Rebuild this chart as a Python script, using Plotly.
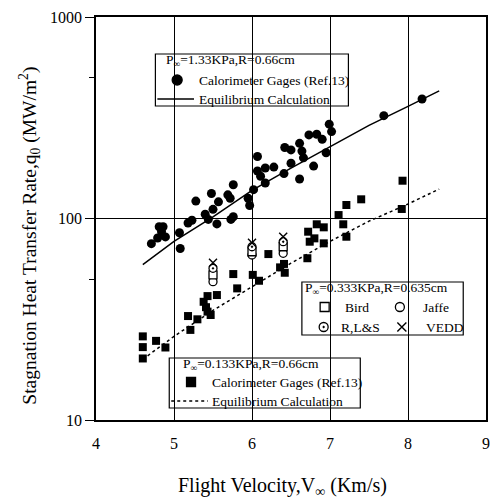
import plotly.graph_objects as go

# ---------------- data ----------------
# P_inf = 1.33 KPa, R = 0.66 cm : calorimeter gages (filled circles)
circ_v = [4.71, 4.79, 4.81, 4.86, 4.84, 4.89, 5.07, 5.08, 5.18, 5.23, 5.28,
          5.40, 5.44, 5.48, 5.50, 5.55, 5.57, 5.69, 5.72, 5.73, 5.76, 5.76,
          5.95, 5.97, 6.02, 6.07, 6.07, 6.11, 6.17, 6.17, 6.28, 6.41, 6.42,
          6.50, 6.50, 6.61, 6.64, 6.66, 6.61, 6.73, 6.79, 6.83, 6.90, 6.95,
          6.99, 7.02, 7.69, 8.18]
circ_q = [75, 80, 91, 91, 86, 81, 85, 71, 95, 98, 122,
          105, 99, 133, 111, 94, 121, 131, 126, 99, 102, 147,
          126, 116, 139, 203, 172, 162, 178, 150, 180, 167, 225,
          219, 188, 236, 216, 200, 157, 260, 182, 262, 247, 212,
          294, 270, 324, 392]

# P_inf = 0.133 KPa, R = 0.66 cm : calorimeter gages (filled squares)
sq_v = [4.60, 4.60, 4.60, 4.77, 4.89, 5.18, 5.21, 5.30, 5.43, 5.38, 5.41, 5.43,
        5.47, 5.55, 5.76, 5.81, 6.01, 6.09, 6.21, 6.36, 6.41, 6.42, 6.71, 6.72,
        6.74, 6.80, 6.83, 6.92, 6.92, 7.11, 7.17, 7.21, 7.21, 7.40, 7.93, 7.92]
sq_q = [26, 23, 20.2, 24.7, 22.9, 32.8, 28, 31.6, 41.2, 38.6, 36.3, 34.5,
        33.2, 41.7, 53, 45, 52.5, 49.1, 66.6, 57.2, 59.5, 53.8, 63.5, 86,
        76.7, 79.7, 93.6, 90.4, 75.3, 104, 93.6, 81.2, 116.7, 124.5, 154, 111.5]

# P_inf = 0.333 KPa, R = 0.635 cm : other calculations
open_v = [5.5, 6.0, 6.4]
bird_q = [52.5, 68.4, 72.4]
jaffe_q = [48.6, 65.9, 67.2]
rls_q = [56.6, 72.4, 76.7]
vedd_q = [60.3, 75.8, 81.2]

# equilibrium calculations
eq1_v = [4.6, 5.0, 5.5, 6.0, 6.5, 7.0, 7.5, 8.0, 8.4]
eq1_q = [59, 77, 102, 138, 178, 228, 290, 360, 430]
eq2_v = [4.6, 5.0, 5.5, 6.0, 6.5, 7.0, 7.5, 8.0, 8.4]
eq2_q = [20, 26, 35, 46, 60, 77, 97, 118, 140]

x_ticks = [4, 5, 6, 7, 8, 9]
y_ticks = [10, 100, 1000]
y_minor = [50, 500]

x_title = "Flight Velocity,V<sub>∞</sub> (Km/s)"
y_title = "Stagnation Heat Transfer Rate,q<sub>0</sub> (MW/m<sup>2</sup>)"

# ---------------- layout geometry ----------------
W, H = 496, 499
ML, MR, MT, MB = 96, 6, 17, 79
PW, PH = W - ML - MR, H - MT - MB
FONT = "Liberation Serif"
LEG_SIZE = 13.5


def fx(px):
    return (px - ML) / PW


def fy(py):
    return (H - MB - py) / PH


fig = go.Figure()

fig.add_trace(go.Scatter(x=eq1_v, y=eq1_q, mode="lines",
                         line=dict(color="black", width=1.5)))
fig.add_trace(go.Scatter(x=eq2_v, y=eq2_q, mode="lines",
                         line=dict(color="black", width=1.5, dash="3px,3px")))
fig.add_trace(go.Scatter(x=circ_v, y=circ_q, mode="markers",
                         marker=dict(symbol="circle", size=9, color="black")))
fig.add_trace(go.Scatter(x=sq_v, y=sq_q, mode="markers",
                         marker=dict(symbol="square", size=8, color="black")))

open_style = dict(size=8, color="white", line=dict(color="black", width=1.3))
fig.add_trace(go.Scatter(x=open_v, y=jaffe_q, mode="markers",
                         marker=dict(symbol="circle", **open_style)))
fig.add_trace(go.Scatter(x=open_v, y=bird_q, mode="markers",
                         marker=dict(symbol="square", **open_style)))
fig.add_trace(go.Scatter(x=open_v, y=rls_q, mode="markers",
                         marker=dict(symbol="circle-dot", **open_style)))
fig.add_trace(go.Scatter(x=open_v, y=vedd_q, mode="markers",
                         marker=dict(symbol="x-thin", size=8,
                                     line=dict(color="black", width=1.4))))

# ---------------- hand-made legend boxes ----------------
shapes = []
annots = []


def box(x0, y0, x1, y1):
    shapes.append(dict(type="rect", xref="paper", yref="paper",
                       x0=fx(x0), x1=fx(x1), y0=fy(y0), y1=fy(y1),
                       fillcolor="white", line=dict(color="black", width=1.2),
                       layer="between"))


def text(px, py, s, size=LEG_SIZE):
    annots.append(dict(x=fx(px), y=fy(py), xref="paper", yref="paper",
                       text=s, showarrow=False, xanchor="left", yanchor="middle",
                       font=dict(family=FONT, size=size, color="black")))


def key(px, py, symbol, fill="black", size=9):
    fig.add_trace(go.Scatter(x=[fx(px)], y=[fy(py)], xaxis="x2", yaxis="y2",
                             mode="markers",
                             marker=dict(symbol=symbol, size=size, color=fill,
                                         line=dict(color="black", width=1.3))))


def keyline(x0, x1, py, dash="solid"):
    shapes.append(dict(type="line", xref="paper", yref="paper",
                       x0=fx(x0), x1=fx(x1), y0=fy(py), y1=fy(py),
                       line=dict(color="black", width=1.5, dash=dash)))


# box 1 : 1.33 KPa
box(156, 54, 351, 106)
text(165, 60, "P<sub>∞</sub>=1.33KPa,R=0.66cm")
key(178, 80, "circle", size=10)
text(198, 80, "Calorimeter Gages (Ref.13)")
keyline(158, 195, 99)
text(198, 99, "Equilibrium Calculation")

# box 3 : 0.133 KPa
box(170, 358, 363, 408)
text(182, 364, "P<sub>∞</sub>=0.133KPa,R=0.66cm")
key(192, 382, "square", size=9)
text(211, 382, "Calorimeter Gages (Ref.13)")
keyline(172, 209, 401, dash="3px,3px")
text(211, 401, "Equilibrium Calculation")

# box 2 : 0.333 KPa
box(304, 282, 467, 335)
text(305, 288, "P<sub>∞</sub>=0.333KPa,R=0.635cm")
key(327, 307, "square", fill="white", size=9)
text(346, 307, "Bird")
key(403, 307, "circle", fill="white", size=9)
text(424, 307, "Jaffe")
key(326, 327, "circle-dot", fill="white", size=9)
text(341, 327, "R,L&S")
fig.add_trace(go.Scatter(x=[fx(405)], y=[fy(327)], xaxis="x2", yaxis="y2",
                         mode="markers",
                         marker=dict(symbol="x-thin", size=9,
                                     line=dict(color="black", width=1.4))))
text(427, 327, "VEDD")

# axis titles as annotations for exact placement
annots.append(dict(x=fx(284), y=fy(486), xref="paper", yref="paper",
                   text=x_title, showarrow=False, xanchor="center", yanchor="middle",
                   font=dict(family=FONT, size=20, color="black")))
annots.append(dict(x=fx(28), y=fy(236), xref="paper", yref="paper",
                   text=y_title, showarrow=False, xanchor="center", yanchor="middle",
                   textangle=-90,
                   font=dict(family=FONT, size=19.5, color="black")))

fig.update_layout(
    width=W, height=H,
    margin=dict(l=ML, r=MR, t=MT, b=MB),
    paper_bgcolor="white", plot_bgcolor="white",
    showlegend=False,
    font=dict(family=FONT, color="black"),
    shapes=shapes, annotations=annots,
    xaxis=dict(range=[4, 9], tickvals=x_ticks, ticktext=[str(v) for v in x_ticks],
               showgrid=True, gridcolor="black", gridwidth=1.2,
               showline=True, linecolor="black", linewidth=1.5, mirror=True,
               ticks="", ticklabelstandoff=8, zeroline=False,
               tickfont=dict(family=FONT, size=16, color="black")),
    yaxis=dict(type="log", range=[1, 3], tickvals=y_ticks,
               ticktext=[str(v) for v in y_ticks],
               showgrid=True, gridcolor="black", gridwidth=1.2,
               showline=True, linecolor="black", linewidth=1.5, mirror=True,
               ticks="outside", ticklen=9, tickwidth=1.3, tickcolor="black",
               minor=dict(tickvals=y_minor, ticks="outside", ticklen=5,
                          tickwidth=1.3, tickcolor="black", showgrid=False),
               zeroline=False,
               tickfont=dict(family=FONT, size=16, color="black")),
    xaxis2=dict(overlaying="x", range=[0, 1], visible=False),
    yaxis2=dict(overlaying="y", range=[0, 1], visible=False),
)

fig.write_html("out.html")
